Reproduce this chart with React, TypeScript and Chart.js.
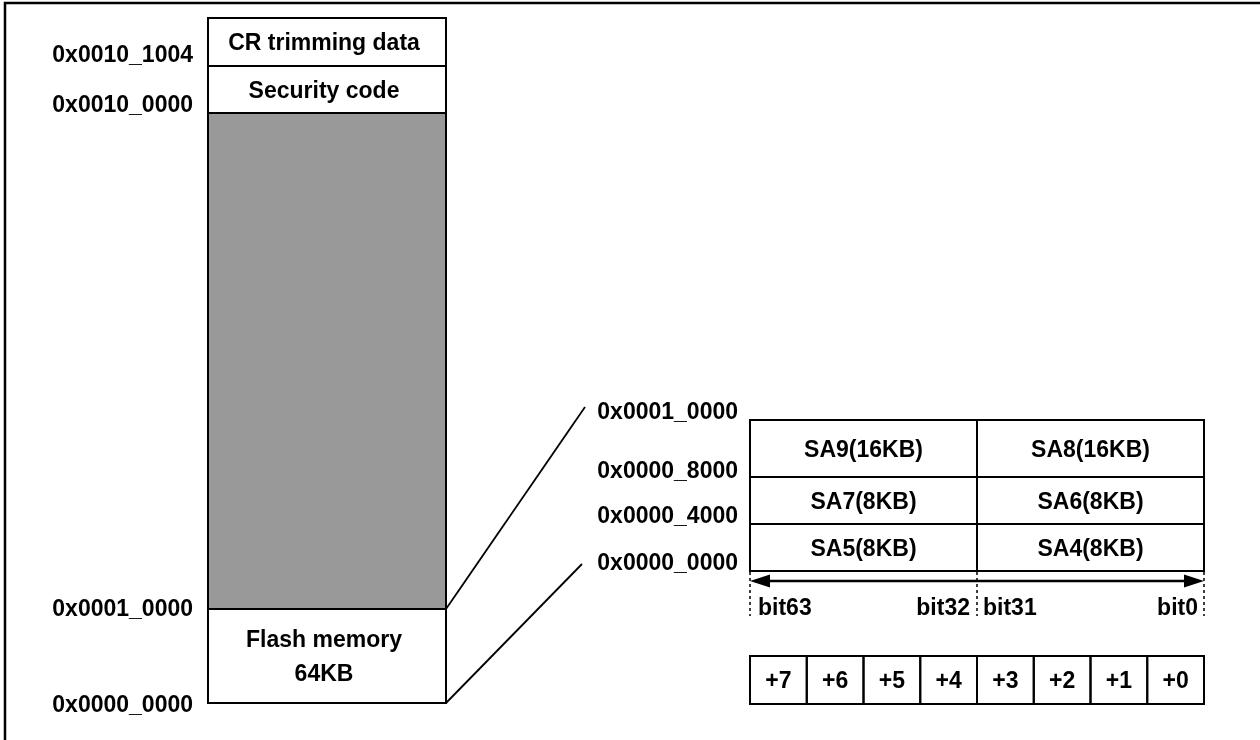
import React, { useEffect, useRef } from "react";
import { Chart, registerables } from "chart.js";

Chart.register(...registerables);

// ---- content ----
const mainBlocks = ["CR trimming data", "Security code", "", "Flash memory\n64KB"];
const mainFills = ["#ffffff", "#ffffff", "#999999", "#ffffff"];
const mainAddresses = ["0x0010_1004", "0x0010_0000", "0x0001_0000", "0x0000_0000"];
const sectorAddresses = ["0x0001_0000", "0x0000_8000", "0x0000_4000", "0x0000_0000"];
const sectorsHigh = ["SA9(16KB)", "SA7(8KB)", "SA5(8KB)"];
const sectorsLow = ["SA8(16KB)", "SA6(8KB)", "SA4(8KB)"];
const bitLabels = ["bit63", "bit32", "bit31", "bit0"];
const byteOffsets = ["+7", "+6", "+5", "+4", "+3", "+2", "+1", "+0"];

// ---- layout (diagram units = scale units) ----
const W = 1260;
const H = 740;
const MAIN_X = [208, 446];
const MAIN_Y = [18, 66, 113, 609, 703];
const MAIN_ADDR_RIGHT = 193;
const MAIN_ADDR_Y = [54, 104, 608, 704];
const TABLE_X = [750, 977, 1204];
const TABLE_Y = [420, 477, 524, 571];
const SECT_ADDR_RIGHT = 738;
const SECT_ADDR_Y = [411, 470, 515, 562];
const ARROW_Y = 581;
const BIT_Y = 607;
const DASH_Y = [572, 616];
const BYTE_Y = [656, 704];
const TEXT_DY = 2;
const FONT = "bold 23px 'Liberation Sans', Arial, sans-serif";

const diagramPlugin = {
  id: "memoryDiagram",
  afterDatasetsDraw(chart: any) {
    const { ctx } = chart;
    const sx = chart.scales.x;
    const sy = chart.scales.y;
    const px = (v: number) => sx.getPixelForValue(v);
    const py = (v: number) => sy.getPixelForValue(v);

    ctx.save();
    ctx.strokeStyle = "#000";
    ctx.fillStyle = "#000";
    ctx.font = FONT;
    ctx.textBaseline = "middle";

    const rect = (x0: number, y0: number, x1: number, y1: number, fill?: string, lw = 2) => {
      const a = px(x0), b = py(y0), c = px(x1), d = py(y1);
      if (fill) {
        ctx.fillStyle = fill;
        ctx.fillRect(a, b, c - a, d - b);
      }
      ctx.lineWidth = lw;
      ctx.strokeStyle = "#000";
      ctx.strokeRect(a, b, c - a, d - b);
      ctx.fillStyle = "#000";
    };
    const text = (s: string, x: number, y: number, align: CanvasTextAlign) => {
      ctx.textAlign = align;
      ctx.fillStyle = "#000";
      ctx.fillText(s, px(x), py(y + TEXT_DY));
    };

    // main memory column
    mainBlocks.forEach((label, i) => {
      rect(MAIN_X[0], MAIN_Y[i], MAIN_X[1], MAIN_Y[i + 1], mainFills[i]);
      const lines = label ? label.split("\n") : [];
      const cy = (MAIN_Y[i] + MAIN_Y[i + 1]) / 2;
      const lh = 34;
      lines.forEach((ln, k) => {
        const y = cy + (k - (lines.length - 1) / 2) * lh;
        text(ln, (MAIN_X[0] + MAIN_X[1]) / 2 - 3, y, "center");
      });
    });
    mainAddresses.forEach((a, i) => text(a, MAIN_ADDR_RIGHT, MAIN_ADDR_Y[i], "right"));

    // sector table
    for (let r = 0; r < sectorsHigh.length; r++) {
      rect(TABLE_X[0], TABLE_Y[r], TABLE_X[1], TABLE_Y[r + 1]);
      rect(TABLE_X[1], TABLE_Y[r], TABLE_X[2], TABLE_Y[r + 1]);
      const cy = (TABLE_Y[r] + TABLE_Y[r + 1]) / 2;
      text(sectorsHigh[r], (TABLE_X[0] + TABLE_X[1]) / 2, cy, "center");
      text(sectorsLow[r], (TABLE_X[1] + TABLE_X[2]) / 2, cy, "center");
    }
    sectorAddresses.forEach((a, i) => text(a, SECT_ADDR_RIGHT, SECT_ADDR_Y[i], "right"));

    // dashed bit boundaries
    ctx.save();
    ctx.setLineDash([3, 3]);
    ctx.lineWidth = 1.5;
    TABLE_X.forEach((x) => {
      ctx.beginPath();
      ctx.moveTo(px(x), py(DASH_Y[0]));
      ctx.lineTo(px(x), py(DASH_Y[1]));
      ctx.stroke();
    });
    ctx.restore();

    // double arrow
    const ax0 = px(TABLE_X[0]), ax1 = px(TABLE_X[2]), ay = py(ARROW_Y);
    const hl = 20, hw = 6.5;
    ctx.lineWidth = 2.5;
    ctx.beginPath();
    ctx.moveTo(ax0 + hl - 2, ay);
    ctx.lineTo(ax1 - hl + 2, ay);
    ctx.stroke();
    ctx.beginPath();
    ctx.moveTo(ax0, ay);
    ctx.lineTo(ax0 + hl, ay - hw);
    ctx.lineTo(ax0 + hl, ay + hw);
    ctx.closePath();
    ctx.fill();
    ctx.beginPath();
    ctx.moveTo(ax1, ay);
    ctx.lineTo(ax1 - hl, ay - hw);
    ctx.lineTo(ax1 - hl, ay + hw);
    ctx.closePath();
    ctx.fill();

    // bit labels
    text(bitLabels[0], TABLE_X[0] + 8, BIT_Y, "left");
    text(bitLabels[1], TABLE_X[1] - 7, BIT_Y, "right");
    text(bitLabels[2], TABLE_X[1] + 6, BIT_Y, "left");
    text(bitLabels[3], TABLE_X[2] - 6, BIT_Y, "right");

    // byte offsets
    const cw = (TABLE_X[2] - TABLE_X[0]) / byteOffsets.length;
    byteOffsets.forEach((b, i) => {
      const x0 = TABLE_X[0] + i * cw;
      rect(x0, BYTE_Y[0], x0 + cw, BYTE_Y[1]);
      text(b, x0 + cw / 2, (BYTE_Y[0] + BYTE_Y[1]) / 2, "center");
    });

    ctx.restore();
  },
};

export default function App() {
  const ref = useRef<HTMLCanvasElement | null>(null);

  useEffect(() => {
    if (!ref.current) return;
    const chart = new Chart(ref.current, {
      type: "scatter",
      data: {
        datasets: [
          {
            label: "frame",
            data: [
              { x: 5, y: H },
              { x: 5, y: 3 },
              { x: W, y: 3 },
            ],
            showLine: true,
            borderColor: "#000",
            borderWidth: 2.5,
            pointRadius: 0,
          },
          {
            label: "zoom-top",
            data: [
              { x: MAIN_X[1], y: MAIN_Y[3] },
              { x: 585, y: 407 },
            ],
            showLine: true,
            borderColor: "#000",
            borderWidth: 1.8,
            pointRadius: 0,
          },
          {
            label: "zoom-bottom",
            data: [
              { x: MAIN_X[1], y: MAIN_Y[4] },
              { x: 582, y: 564 },
            ],
            showLine: true,
            borderColor: "#000",
            borderWidth: 1.8,
            pointRadius: 0,
          },
        ],
      },
      options: {
        responsive: false,
        animation: false,
        devicePixelRatio: 1,
        layout: { padding: 0 },
        plugins: { legend: { display: false }, tooltip: { enabled: false } },
        scales: {
          x: { type: "linear", min: 0, max: W, display: false },
          y: { type: "linear", min: 0, max: H, reverse: true, display: false },
        },
      },
      plugins: [diagramPlugin],
    });
    return () => chart.destroy();
  }, []);

  return (
    <div style={{ position: "fixed", left: 0, top: 0, width: W, height: H, background: "#fff" }}>
      <canvas ref={ref} width={W} height={H} style={{ width: W, height: H, display: "block" }} />
    </div>
  );
}
